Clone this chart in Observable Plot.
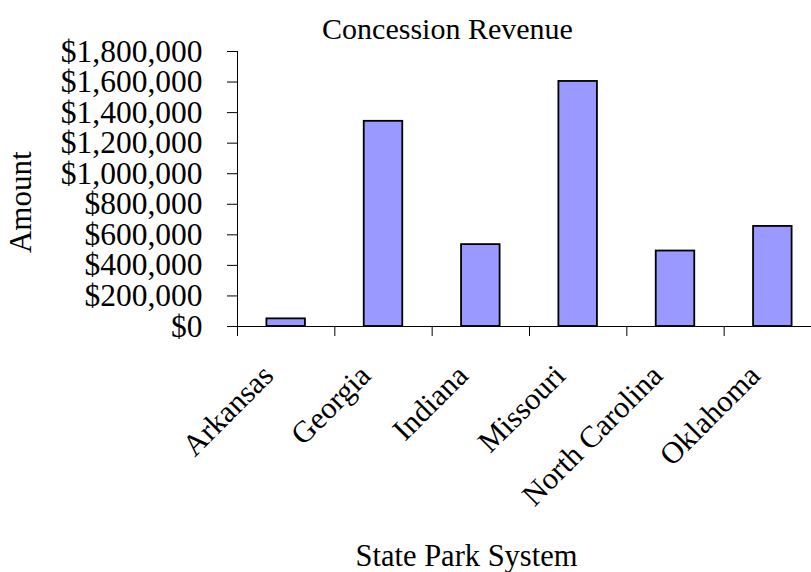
<!DOCTYPE html>
<html>
<head>
<meta charset="utf-8">
<script src="https://cdn.jsdelivr.net/npm/d3@7"></script>
<script src="https://cdn.jsdelivr.net/npm/@observablehq/plot@0.6"></script>
<style>
  html, body { margin: 0; padding: 0; background: white; }
</style>
</head>
<body>
<div id="chart"></div>
<script>
const states = ["Arkansas", "Georgia", "Indiana", "Missouri", "North Carolina", "Oklahoma"];
const revenue = [50000, 1343000, 536000, 1604000, 494000, 655000];
const yTicks = [0, 200000, 400000, 600000, 800000, 1000000, 1200000, 1400000, 1600000, 1800000];
const title = "Concession Revenue";
const xTitle = "State Park System";
const yTitle = "Amount";

const data = states.map((s, i) => ({state: s, i, value: revenue[i]}));

const chart = Plot.plot({
  width: 811,
  height: 572,
  marginLeft: 237,
  marginRight: -10,
  marginTop: 51,
  marginBottom: 246,
  style: {fontFamily: "'Liberation Serif', 'Times New Roman', serif", fontSize: "30px", background: "white", color: "black"},
  x: {domain: [0, states.length], label: null},
  y: {domain: [0, 1800000], label: null},
  marks: [
    Plot.rect(data, {x1: "i", x2: d => d.i + 1, y1: 0, y2: "value", insetLeft: 29.4, insetRight: 29.4,
      fill: "#9999FF", stroke: "black", strokeWidth: 1.8}),
    Plot.ruleY([0], {stroke: "black", strokeWidth: 1}),
    Plot.ruleX([0], {stroke: "black", strokeWidth: 1}),
    Plot.axisY({ticks: yTicks, tickFormat: d3.format("$,"), tickSize: 10, tickPadding: 25, label: null, fontSize: 31.5, stroke: "black"}),
    Plot.axisX({ticks: d3.range(states.length + 1), tickSize: 10, tickFormat: () => "", label: null, stroke: "black"}),
    Plot.text(data, {x: d => d.i + 0.5, frameAnchor: "bottom", lineAnchor: "middle", text: "state", rotate: -45, textAnchor: "end", fontSize: 30.5, dx: -18, dy: 44, fill: "black"}),
    Plot.text([title], {frameAnchor: "top", lineAnchor: "middle", textAnchor: "middle", dx: -82, dy: -22.5, fill: "black"}),
    Plot.text([xTitle], {frameAnchor: "bottom", lineAnchor: "middle", textAnchor: "middle", fontSize: 30.5, dx: -63, dy: 229.4, fill: "black"}),
    Plot.text([yTitle], {frameAnchor: "left", lineAnchor: "middle", textAnchor: "middle", rotate: -90, fontSize: 31, dx: -216.6, dy: 13.2, fill: "black"})
  ]
});
document.getElementById("chart").appendChild(chart);
</script>
</body>
</html>
